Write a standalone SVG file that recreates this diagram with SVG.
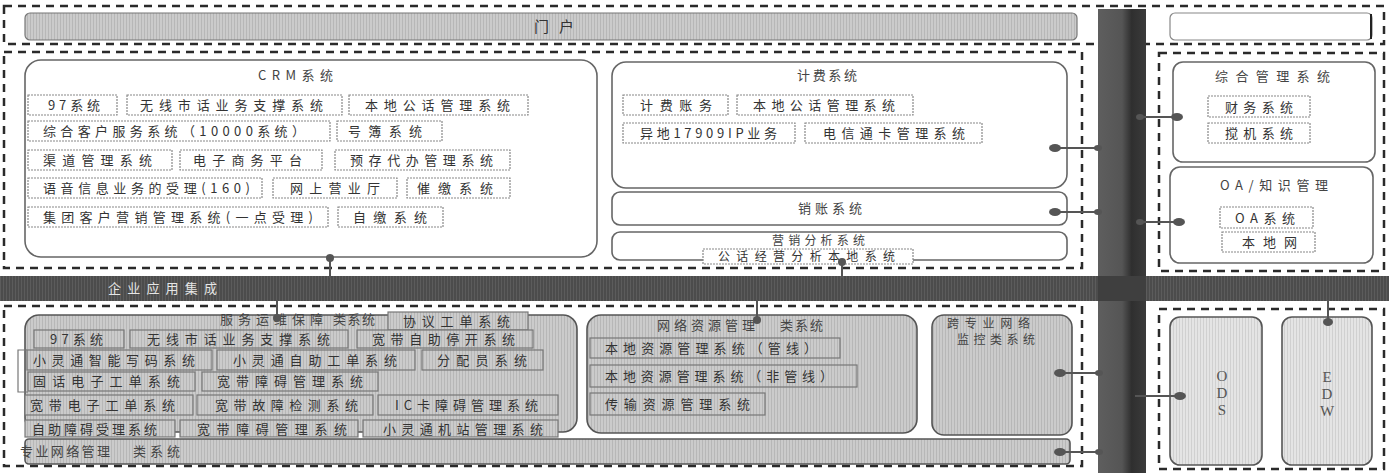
<svg xmlns="http://www.w3.org/2000/svg" width="1389" height="473" viewBox="0 0 1389 473">
<defs>
<pattern id="g" width="3" height="3" patternUnits="userSpaceOnUse"><rect width="3" height="3" fill="#cbcbcb"/><rect width="1" height="3" fill="#b7b7b7"/></pattern>
<pattern id="lg" width="3" height="3" patternUnits="userSpaceOnUse"><rect width="3" height="3" fill="#e4e4e4"/><rect width="1" height="3" fill="#d0d0d0"/></pattern>
<pattern id="dk" width="3" height="3" patternUnits="userSpaceOnUse"><rect width="3" height="3" fill="#4c4c4c"/><rect width="1" height="3" fill="#5c5c5c"/></pattern>
<linearGradient id="vb" x1="0" y1="0" x2="1" y2="0"><stop offset="0" stop-color="#5e5e5e"/><stop offset="0.5" stop-color="#555"/><stop offset="0.7" stop-color="#2f2f2f"/><stop offset="1" stop-color="#3b3b3b"/></linearGradient>
<style>
.fr{fill:none;stroke:#2a2a2a;stroke-width:2.5;stroke-dasharray:8 6}
.big{fill:#fff;stroke:#666;stroke-width:1.6}
.gbig{fill:url(#g);stroke:#555;stroke-width:1.6}
.bx{fill:#fff;stroke:#888;stroke-width:1.2;stroke-dasharray:2 1}
.gbx{fill:url(#g);stroke:#777;stroke-width:1.2}
.t{font-family:"Noto Sans CJK SC",sans-serif;font-size:13px;fill:#333}
.ti{font-family:"Noto Sans CJK SC",sans-serif;font-size:13px;fill:#444}
.lt{font-family:"Liberation Serif",serif;font-size:15px;fill:#555;text-anchor:middle}
.cn{stroke:#555;stroke-width:2;fill:none}
.ov{fill:#555}
</style>
</defs>
<rect width="1389" height="473" fill="#fff"/>

<g id="frames">
<rect class="fr" x="4" y="6" width="1380" height="38"/>
<rect class="fr" x="4" y="52" width="1078" height="216"/>
<rect class="fr" x="1159" y="53" width="225" height="218"/>
<rect class="fr" x="4" y="306" width="1078" height="160"/>
<rect class="fr" x="1159" y="309" width="225" height="160"/>
</g>

<g id="bus">
<rect x="1098" y="9" width="48" height="464" fill="url(#vb)"/>
<rect x="0" y="276" width="1389" height="25" fill="url(#dk)"/>
<rect x="1098" y="276" width="48" height="25" fill="#3f3f3f"/>
<text x="108" y="293" class="t" style="fill:#e6e6e6" textLength="109">企业应用集成</text>
</g>

<g id="portal">
<rect x="25" y="13" width="1052" height="27" rx="5" fill="url(#g)" stroke="#777" stroke-width="1.2"/>
<text x="534" y="32" class="t" style="font-size:15px" textLength="40">门户</text>
</g>
<g id="portal-right">
<rect x="1170" y="13" width="202" height="27" rx="5" fill="#fff" stroke="#888" stroke-width="1.2"/>
<line x1="1371" y1="14" x2="1371" y2="39" stroke="#222" stroke-width="2"/>
</g>

<g id="crm">
<rect class="big" x="25" y="60" width="572" height="197" rx="16"/>
<text x="258" y="80" class="ti" textLength="75">CRM系统</text>
<rect class="bx" x="28" y="95" width="89" height="20"/><text x="48" y="110" class="t" textLength="52">97系统</text>
<rect class="bx" x="127" y="95" width="215" height="20"/><text x="140" y="110" class="t" textLength="183">无线市话业务支撑系统</text>
<rect class="bx" x="349" y="95" width="179" height="20"/><text x="365" y="110" class="t" textLength="145">本地公话管理系统</text>
<rect class="bx" x="28" y="121" width="302" height="20"/><text x="43" y="136" class="t" textLength="262">综合客户服务系统（10000系统）</text>
<rect class="bx" x="337" y="121" width="105" height="20"/><text x="348" y="136" class="t" textLength="74">号簿系统</text>
<rect class="bx" x="28" y="150" width="144" height="20"/><text x="43" y="165" class="t" textLength="109">渠道管理系统</text>
<rect class="bx" x="180" y="150" width="142" height="20"/><text x="193" y="165" class="t" textLength="109">电子商务平台</text>
<rect class="bx" x="335" y="150" width="175" height="20"/><text x="350" y="165" class="t" textLength="143">预存代办管理系统</text>
<rect class="bx" x="28" y="178" width="234" height="20"/><text x="43" y="193" class="t" textLength="207">语音信息业务的受理(160)</text>
<rect class="bx" x="273" y="178" width="124" height="20"/><text x="290" y="193" class="t" textLength="90">网上营业厅</text>
<rect class="bx" x="407" y="178" width="103" height="20"/><text x="417" y="193" class="t" textLength="76">催缴系统</text>
<rect class="bx" x="28" y="207" width="300" height="20"/><text x="43" y="222" class="t" textLength="270">集团客户营销管理系统(一点受理)</text>
<rect class="bx" x="338" y="207" width="105" height="20"/><text x="353" y="222" class="t" textLength="74">自缴系统</text>
</g>

<g id="billing">
<rect class="big" x="612" y="62" width="455" height="126" rx="14"/>
<text x="797" y="80" class="ti" textLength="60">计费系统</text>
<rect class="bx" x="623" y="95" width="105" height="20"/><text x="640" y="110" class="t" textLength="72">计费账务</text>
<rect class="bx" x="737" y="95" width="176" height="20"/><text x="753" y="110" class="t" textLength="142">本地公话管理系统</text>
<rect class="bx" x="623" y="123" width="172" height="20"/><text x="640" y="138" class="t" textLength="137">异地17909IP业务</text>
<rect class="bx" x="805" y="123" width="177" height="20"/><text x="823" y="138" class="t" textLength="142">电信通卡管理系统</text>
</g>
<g id="settle">
<rect class="big" x="612" y="192" width="455" height="33" rx="8"/>
<text x="798" y="213" class="ti" textLength="64">销账系统</text>
</g>
<g id="marketing">
<rect class="big" x="612" y="232" width="455" height="28" rx="8"/>
<text x="772" y="245" class="ti" style="font-size:12px" textLength="93">营销分析系统</text>
<rect class="bx" x="703" y="249" width="210" height="15"/><text x="718" y="261" class="t" style="font-size:12px" textLength="177">公话经营分析本地系统</text>
</g>

<g id="mgmt">
<rect class="big" x="1173" y="62" width="202" height="100" rx="10"/>
<text x="1215" y="81" class="ti" textLength="115">综合管理系统</text>
<rect class="bx" x="1208" y="96" width="102" height="21"/><text x="1225" y="112" class="t" textLength="68">财务系统</text>
<rect class="bx" x="1208" y="123" width="102" height="20"/><text x="1225" y="138" class="t" textLength="68">搅机系统</text>
</g>
<g id="oa">
<rect class="big" x="1170" y="167" width="203" height="96" rx="10"/>
<text x="1220" y="190" class="ti" textLength="108">OA/知识管理</text>
<rect class="bx" x="1220" y="207" width="93" height="21"/><text x="1235" y="223" class="t" textLength="60">OA系统</text>
<rect class="bx" x="1222" y="232" width="93" height="20"/><text x="1242" y="247" class="t" textLength="55">本地网</text>
</g>

<g id="service">
<rect class="gbig" x="25" y="315" width="552" height="117" rx="14"/>
<path d="M27 350 H18 V392 H28" fill="none" stroke="#777" stroke-width="1.2"/>
<text x="220" y="324" class="ti" textLength="103">服务运维保障</text>
<text x="333" y="324" class="ti" textLength="42">类系统</text>
<rect class="gbx" x="388" y="312" width="140" height="18"/><text x="403" y="326" class="t" textLength="107">协议工单系统</text>
<rect class="gbx" x="34" y="330" width="90" height="18"/><text x="50" y="344" class="t" textLength="53">97系统</text>
<rect class="gbx" x="130" y="330" width="218" height="18"/><text x="147" y="344" class="t" textLength="183">无线市话业务支撑系统</text>
<rect class="gbx" x="357" y="330" width="176" height="18"/><text x="372" y="344" class="t" textLength="143">宽带自助停开系统</text>
<rect class="gbx" x="27" y="350" width="185" height="20"/><text x="33" y="365" class="t" textLength="162">小灵通智能写码系统</text>
<rect class="gbx" x="217" y="350" width="198" height="20"/><text x="233" y="365" class="t" textLength="164">小灵通自助工单系统</text>
<rect class="gbx" x="422" y="350" width="121" height="20"/><text x="437" y="365" class="t" textLength="90">分配员系统</text>
<rect class="gbx" x="28" y="372" width="167" height="19"/><text x="33" y="386" class="t" textLength="147">固话电子工单系统</text>
<rect class="gbx" x="202" y="372" width="176" height="19"/><text x="217" y="386" class="t" textLength="146">宽带障碍管理系统</text>
<rect class="gbx" x="25" y="395" width="168" height="20"/><text x="30" y="410" class="t" textLength="145">宽带电子工单系统</text>
<rect class="gbx" x="197" y="395" width="176" height="20"/><text x="215" y="410" class="t" textLength="143">宽带故障检测系统</text>
<rect class="gbx" x="378" y="395" width="180" height="20"/><text x="395" y="410" class="t" textLength="143">IC卡障碍管理系统</text>
<rect class="gbx" x="25" y="420" width="150" height="17"/><text x="32" y="434" class="t" textLength="125">自助障碍受理系统</text>
<rect class="gbx" x="180" y="420" width="178" height="17"/><text x="197" y="434" class="t" textLength="150">宽带障碍管理系统</text>
<rect class="gbx" x="363" y="420" width="195" height="17"/><text x="383" y="434" class="t" textLength="160">小灵通机站管理系统</text>
</g>

<g id="netres">
<rect class="gbig" x="587" y="315" width="330" height="118" rx="14"/>
<text x="657" y="330" class="ti" textLength="98">网络资源管理</text>
<text x="780" y="330" class="ti" textLength="43">类系统</text>
<rect class="gbx" x="590" y="338" width="250" height="20"/><text x="605" y="353" class="t" textLength="212">本地资源管理系统（管线）</text>
<rect class="gbx" x="590" y="365" width="267" height="22"/><text x="605" y="381" class="t" textLength="228">本地资源管理系统（非管线）</text>
<rect class="gbx" x="590" y="393" width="175" height="22"/><text x="605" y="409" class="t" textLength="145">传输资源管理系统</text>
</g>

<g id="monitor">
<rect class="gbig" x="932" y="315" width="140" height="120" rx="12"/>
<text x="947" y="328" class="ti" style="font-size:12px" textLength="83">跨专业网络</text>
<text x="957" y="344" class="ti" style="font-size:12px" textLength="78">监控类系统</text>
</g>

<g id="netmgmt">
<rect class="gbig" x="25" y="439" width="1045" height="25" rx="4"/>
<text x="20" y="456" class="ti" textLength="90">专业网络管理</text>
<text x="133" y="456" class="ti" textLength="47">类系统</text>
</g>

<g id="ods">
<rect x="1170" y="317" width="92" height="148" rx="10" fill="url(#lg)" stroke="#555" stroke-width="1.6"/>
<text x="1222" y="381" class="lt">O</text><text x="1222" y="398" class="lt">D</text><text x="1222" y="415" class="lt">S</text>
</g>
<g id="edw">
<rect x="1282" y="317" width="90" height="148" rx="10" fill="url(#lg)" stroke="#555" stroke-width="1.6"/>
<text x="1327" y="382" class="lt">E</text><text x="1327" y="399" class="lt">D</text><text x="1327" y="416" class="lt">W</text>
</g>

<g id="connectors">
<line class="cn" x1="330" y1="258" x2="330" y2="278"/><ellipse class="ov" cx="330" cy="258" rx="4" ry="4"/>
<line class="cn" x1="842" y1="262" x2="842" y2="278"/><ellipse class="ov" cx="842" cy="262" rx="4" ry="4"/>
<line class="cn" x1="1055" y1="148" x2="1098" y2="148"/><ellipse class="ov" cx="1055" cy="148" rx="6" ry="4"/><ellipse class="ov" cx="1098" cy="148" rx="4" ry="3"/>
<line class="cn" x1="1055" y1="212" x2="1098" y2="212"/><ellipse class="ov" cx="1055" cy="212" rx="6" ry="4"/><ellipse class="ov" cx="1098" cy="212" rx="4" ry="3"/>
<line class="cn" x1="1140" y1="117" x2="1178" y2="117"/><ellipse class="ov" cx="1140" cy="117" rx="4" ry="3"/><ellipse class="ov" cx="1177" cy="117" rx="6" ry="4"/>
<line class="cn" x1="1140" y1="222" x2="1180" y2="222"/><ellipse class="ov" cx="1140" cy="222" rx="4" ry="3"/><ellipse class="ov" cx="1179" cy="222" rx="6" ry="4"/>
<line class="cn" x1="277" y1="300" x2="277" y2="318"/><ellipse class="ov" cx="277" cy="318" rx="4" ry="4"/>
<line class="cn" x1="757" y1="300" x2="757" y2="320"/><ellipse class="ov" cx="757" cy="320" rx="4" ry="4"/>
<line class="cn" x1="1060" y1="373" x2="1100" y2="373"/><ellipse class="ov" cx="1060" cy="373" rx="6" ry="4"/><ellipse class="ov" cx="1099" cy="373" rx="4" ry="3"/>
<line class="cn" x1="1060" y1="452" x2="1100" y2="452"/><ellipse class="ov" cx="1060" cy="452" rx="6" ry="4"/><ellipse class="ov" cx="1099" cy="452" rx="4" ry="3"/>
<line class="cn" x1="1135" y1="396" x2="1182" y2="396"/><ellipse class="ov" cx="1180" cy="396" rx="6" ry="4"/>
<line class="cn" x1="1328" y1="300" x2="1328" y2="322"/><ellipse class="ov" cx="1328" cy="322" rx="5" ry="4"/>
</g>
</svg>
